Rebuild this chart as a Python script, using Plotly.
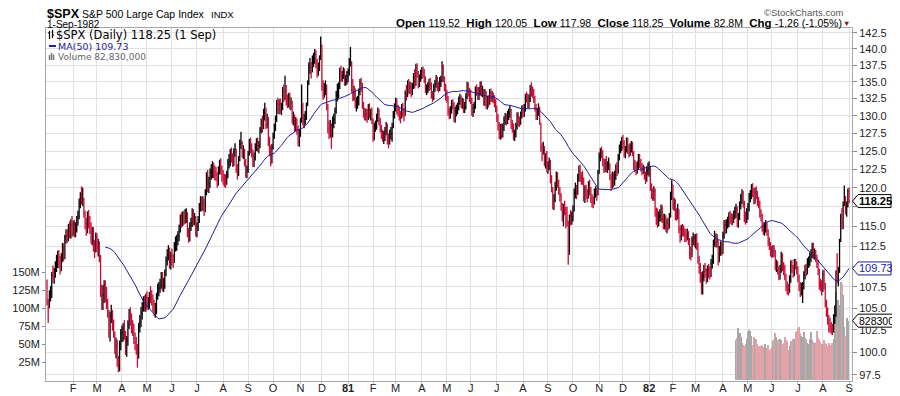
import numpy as np
import pandas as pd
import plotly.graph_objects as go

# ---------------- DATA ----------------
holidays = ["1980-01-01", "1980-02-18", "1980-04-04", "1980-05-26", "1980-07-04", "1980-09-01",
            "1980-11-04", "1980-11-27", "1980-12-25",
            "1981-01-01", "1981-02-16", "1981-04-17", "1981-05-25", "1981-07-03", "1981-09-07",
            "1981-11-26", "1981-12-25",
            "1982-01-01", "1982-02-15", "1982-04-09", "1982-05-31", "1982-07-05"]

prev_close_start = 107.94

close_by_month = [
 [105.76,105.22,106.52,106.81,108.95,108.76,109.05,109.89,110.38,111.14,110.66,109.88,111.07,112.10,111.51,113.44,113.70,113.61,114.85,114.07,115.20,114.16],
 [115.12,114.37,114.66,115.72,116.28,117.95,118.65,118.44,118.44,116.72,115.41,114.60,116.47,115.28,115.04,113.33,114.40,112.38,112.35,113.66],
 [112.50,112.78,111.13,106.90,106.51,106.51,107.78,106.92,105.62,104.70,102.26,104.10,104.31,103.15,102.31,100.68,100.68,99.19,98.22,100.68,102.09],
 [102.18,102.68,102.15,100.19,101.20,103.11,104.00,103.79,102.84,102.63,101.54,101.05,100.55,98.95,102.94,103.43,104.40,105.16,105.64,105.46,106.29],
 [105.58,105.58,106.38,106.25,106.13,105.48,104.72,104.78,106.30,106.85,107.35,107.67,108.72,107.62,107.72,109.01,110.62,111.40,111.90,110.27,111.24],
 [110.76,110.51,112.61,112.61,113.20,113.71,114.66,116.02,115.52,116.09,116.03,116.26,116.31,114.06,113.64,115.02,115.38,116.72,115.81,116.00,114.24],
 [114.93,115.68,117.46,118.06,117.84,117.98,117.14,119.30,121.55,120.01,120.56,122.04,122.04,122.51,122.19,121.93,121.79,120.78,122.40,123.11,122.54,121.67],
 [121.21,120.98,120.74,121.66,123.30,123.61,124.78,124.06,123.52,124.84,125.25,122.60,121.94,123.77,126.02,126.02,124.82,124.84,123.52,122.08,122.38],
 [124.52,126.12,125.42,124.88,123.48,124.07,125.58,126.01,125.67,125.67,127.87,128.87,128.40,130.40,130.40,128.72,129.43,126.35,125.40,123.54,125.46],
 [127.13,128.12,129.33,131.73,131.00,131.65,131.00,131.04,133.65,132.77,133.70,132.22,132.02,132.61,131.52,131.85,129.53,129.85,128.38,128.90,128.05,126.29,127.47],
 [129.04,131.33,129.18,129.48,129.66,131.26,134.59,137.15,137.15,136.52,138.10,138.40,139.06,137.91,136.50,137.00,138.31,140.52],
 [134.22,133.71,133.95,134.38,131.52,128.26,128.02,128.26,127.36,129.23,129.45,130.60,133.00,133.00,134.18,136.52,135.78,135.88,136.57,135.03,135.33,135.76],
 [136.34,137.97,138.12,135.08,133.06,133.48,131.70,131.92,131.96,133.47,134.77,134.37,131.65,130.26,130.23,130.26,129.84,131.12,130.24,130.24,129.55],
 [126.91,128.46,128.59,129.63,130.60,129.27,128.24,127.48,126.98,126.98,127.81,128.48,126.61,126.58,127.39,127.39,128.52,130.10,131.27],
 [132.01,130.86,130.81,129.93,129.85,131.12,130.46,129.95,133.19,133.11,134.68,133.92,134.22,133.46,134.08,135.69,134.67,137.11,136.27,134.65,135.49,136.00],
 [136.57,136.32,135.49,133.91,133.93,134.31,134.67,134.51,133.15,132.68,134.17,134.70,135.45,134.23,134.14,135.01,135.14,137.15,135.48,134.33,132.81],
 [132.72,130.67,130.32,130.78,131.67,131.66,129.71,130.72,130.72,131.28,132.17,132.54,131.75,131.99,131.00,131.33,132.77,134.44,133.45,132.59],
 [132.41,130.62,131.12,131.33,133.75,133.71,132.97,133.57,134.45,133.49,133.61,132.15,133.32,131.64,132.27,131.95,133.35,132.66,132.81,132.56,131.89,131.21],
 [129.77,128.64,127.37,128.24,127.37,128.32,129.30,129.64,129.37,130.06,130.26,130.76,128.72,128.34,127.13,127.40,128.46,129.90,129.16,129.14,130.01,130.92],
 [130.48,131.18,132.67,132.64,131.75,132.54,133.85,133.51,133.40,132.49,131.22,130.11,130.49,131.16,129.23,125.50,125.13,125.49,123.51,124.08,122.79],
 [123.02,123.49,121.24,120.07,117.98,118.40,120.14,121.61,120.66,119.77,118.87,117.66,116.26,117.24,117.15,116.68,115.65,112.77,115.94,115.93,116.18],
 [117.08,119.36,119.51,119.39,121.31,122.31,121.45,121.21,121.15,118.80,119.71,119.19,118.98,120.28,119.64,118.60,118.16,118.10,119.29,119.45,119.06,121.89],
 [124.20,124.80,124.74,123.54,122.67,123.29,122.70,122.92,123.19,121.67,120.24,121.71,120.71,121.60,122.64,122.31,124.05,125.09,125.71,126.35],
 [126.10,124.69,125.12,126.26,125.19,124.82,125.48,125.71,124.93,122.99,122.78,122.42,122.99,124.00,123.34,122.88,122.31,122.54,121.67,121.12,122.30,122.55],
 [122.74,120.05,119.18,118.93,119.55,116.78,116.30,115.54,116.33,116.33,117.22,115.97,115.27,115.97,114.93,115.41,115.19,116.10,118.92,120.40],
 [117.78,118.01,116.48,116.42,117.26,114.63,113.68,114.66,114.43,114.38,113.82,113.69,114.06,113.22,111.59,111.51,113.21,113.47,113.11],
 [113.31,112.68,110.92,109.88,108.83,107.34,108.83,109.41,109.36,108.61,109.45,109.28,109.08,110.30,110.61,112.77,113.55,112.97,113.21,110.71,111.94,112.30,111.96],
 [113.79,115.12,114.73,115.36,115.46,116.22,116.00,115.99,115.83,116.35,116.81,117.19,115.44,116.11,117.69,118.64,119.26,118.00,116.14,115.96,116.44],
 [117.46,118.68,119.08,119.89,119.47,118.38,119.42,119.17,118.22,118.01,116.71,116.35,114.89,114.59,114.89,115.14,114.40,113.11,112.66,111.88],
 [111.68,112.04,111.86,110.09,110.12,109.63,108.99,109.61,111.24,109.96,109.69,108.87,107.60,107.28,107.20,108.30,110.14,109.83,109.14,110.26,110.21,109.61],
 [108.71,107.65,106.69,107.22,107.53,108.83,109.57,109.45,110.44,110.47,111.07,111.54,112.32,111.42,111.48,111.17,110.36,109.43,107.74,107.72,107.09],
 [108.98,107.83,105.69,104.57,103.71,103.08,102.84,102.60,102.42,103.85,104.09,109.04,108.54,109.16,113.02,116.11,115.35,117.58,118.55,117.11,117.66,119.51],
 [118.25],
]

high_by_month = [
 [108.4,106.1,107.1,107.6,109.3,110.1,109.8,110.6,111.4,111.9,112.0,111.3,111.6,112.9,112.8,113.9,114.6,114.6,115.3,115.6,115.9,116.3],
 [115.7,115.8,115.5,116.3,117.0,118.6,119.4,120.2,120.0,118.7,117.0,116.1,116.9,117.1,116.3,115.5,114.9,114.9,113.3,114.2],
 [114.1,113.4,113.1,111.4,107.8,107.7,108.3,108.3,107.5,106.1,104.8,104.6,105.4,104.8,103.7,102.3,101.6,101.4,99.6,101.3,102.6],
 [103.0,103.3,103.6,102.4,101.8,103.6,104.9,105.1,104.4,103.6,103.2,102.2,101.7,100.9,103.3,104.2,105.1,105.7,106.4,106.5,106.7],
 [107.0,106.3,106.9,107.6,107.1,106.6,106.0,105.6,106.8,107.9,108.1,108.5,109.3,109.3,108.6,109.6,111.2,112.1,112.6,112.3,111.8],
 [112.2,111.5,113.0,113.7,113.9,114.4,115.2,116.5,116.8,116.9,117.0,117.2,117.3,116.8,114.8,115.5,116.1,117.3,117.2,116.7,116.3],
 [115.5,116.3,118.0,118.9,118.9,118.9,118.6,119.8,122.1,122.4,121.5,122.6,123.2,123.6,123.4,123.0,122.8,122.1,122.9,123.8,124.0,123.0],
 [122.4,121.9,121.8,122.3,123.9,124.6,125.3,125.5,124.7,125.4,126.1,125.3,123.2,124.3,126.6,127.7,126.4,125.8,125.3,123.9,123.0],
 [125.0,126.7,126.9,126.1,125.2,124.8,126.1,126.8,126.9,126.4,128.4,129.6,130.0,131.0,131.9,131.2,130.3,129.8,127.0,125.8,126.0],
 [127.6,128.9,130.0,132.3,132.6,132.4,132.5,131.9,134.2,134.6,135.9,134.5,133.1,133.3,133.4,132.7,132.2,130.6,130.2,129.8,129.6,128.6,128.1],
 [129.7,134.6,131.9,130.3,130.7,131.9,135.2,137.9,138.6,138.0,139.0,139.4,140.0,139.8,138.5,137.9,139.0,141.96],
 [140.7,135.2,134.8,135.2,134.6,131.7,129.3,129.4,128.9,129.9,130.3,131.2,133.6,134.7,134.9,137.1,137.4,136.6,137.2,137.0,136.0,136.6],
 [137.0,138.6,140.3,138.1,135.4,134.4,134.0,132.7,132.9,134.0,135.4,135.6,134.8,132.0,131.1,131.0,131.0,131.7,131.8,131.0,131.2],
 [129.6,129.0,129.3,130.3,131.2,131.0,129.7,128.7,128.0,127.8,128.4,129.1,128.9,127.5,128.0,128.4,129.0,130.7,131.8],
 [132.6,132.5,131.6,131.3,130.7,131.7,131.9,131.1,133.7,134.5,135.2,135.4,135.0,134.9,134.8,136.3,136.9,137.7,137.8,136.6,136.1,136.8],
 [137.2,137.3,136.9,135.8,134.6,134.9,135.4,135.6,134.9,133.6,134.7,135.3,136.0,135.8,135.0,135.7,135.9,138.1,137.6,135.8,134.7],
 [133.8,132.9,131.2,131.4,132.3,132.4,132.0,131.3,131.6,131.9,132.8,133.2,133.0,132.6,132.5,132.0,133.3,135.0,134.9,134.1],
 [133.8,132.6,131.7,132.0,134.3,134.6,134.2,134.2,135.0,135.1,134.4,133.9,133.9,133.6,132.9,133.0,133.9,134.0,133.6,133.4,133.0,132.4],
 [131.5,130.2,129.1,128.8,128.9,128.9,129.9,130.4,130.3,130.7,131.0,131.5,131.0,129.4,128.9,128.0,129.0,130.5,130.5,129.9,130.6,131.5],
 [131.6,131.7,133.2,133.5,133.2,133.1,134.5,134.9,134.3,133.9,132.9,131.7,131.1,131.8,131.3,129.0,126.1,126.3,125.7,124.7,125.0],
 [123.6,124.1,123.8,121.7,120.1,119.2,120.8,122.2,122.1,121.1,120.1,119.3,118.0,117.9,118.3,117.5,117.5,115.7,116.5,117.1,116.9],
 [117.7,119.9,120.7,120.4,121.9,123.0,123.1,122.1,122.3,121.4,120.3,120.4,119.8,120.9,121.1,120.1,119.2,118.9,119.9,120.2,120.0,122.4],
 [124.8,125.4,125.6,125.1,124.0,123.9,124.3,123.6,124.1,123.3,121.8,122.2,122.1,122.3,123.2,123.5,124.6,125.9,126.4,127.0],
 [127.3,126.5,125.7,126.9,126.9,125.9,126.1,126.4,126.3,125.0,123.8,123.5,123.6,124.6,124.6,123.9,123.4,123.1,122.9,122.2,122.9,123.4],
 [123.6,122.9,120.6,119.9,120.2,119.9,117.4,117.3,116.9,117.2,117.8,117.7,116.6,116.6,116.4,116.0,116.1,116.7,119.5,121.0],
 [120.4,118.7,118.5,117.3,117.9,117.2,115.0,115.2,115.3,115.1,114.7,114.6,114.7,114.4,113.5,112.4,113.7,114.2,114.0],
 [114.0,114.1,112.9,111.3,110.4,109.3,109.4,110.2,110.4,109.7,110.1,110.3,110.0,110.9,111.4,113.3,114.4,114.1,114.0,113.3,112.5,113.1,113.0],
 [114.3,115.8,115.8,115.9,116.2,116.8,117.0,116.7,116.6,117.0,117.5,117.9,117.6,116.7,118.2,119.2,119.8,119.6,118.3,116.9,117.3],
 [118.0,119.3,119.7,120.5,120.6,120.0,120.0,120.2,119.6,118.8,118.3,117.2,116.6,115.5,115.5,115.8,115.5,114.6,113.6,113.0],
 [112.5,112.6,112.6,112.0,110.8,110.6,110.0,110.2,111.8,111.6,110.5,110.2,109.1,108.2,107.9,108.9,110.7,110.8,110.2,110.9,110.9,110.6],
 [110.0,109.0,108.1,108.0,108.1,109.4,110.2,110.3,111.0,111.2,111.7,112.1,112.9,112.9,112.2,112.0,111.4,110.8,109.7,108.5,108.3],
 [109.5,109.6,108.0,106.0,105.1,104.2,103.9,103.4,103.2,104.3,105.3,109.5,111.6,109.9,113.4,116.6,117.3,118.2,120.3,118.9,118.2,119.9],
 [120.05],
]

low_by_month = [
 [105.3,103.3,105.0,105.8,106.2,108.0,107.9,108.6,109.3,109.8,109.8,109.0,109.4,110.5,110.6,110.9,112.8,112.9,113.1,113.5,113.4,113.6],
 [113.8,113.6,113.6,114.2,115.1,115.9,117.3,117.8,117.6,116.1,114.6,113.8,114.1,114.7,114.0,112.8,112.6,111.8,111.0,111.7],
 [111.8,111.2,110.5,106.3,104.8,104.8,105.6,105.7,104.9,103.9,101.6,101.2,103.3,102.4,101.6,99.8,99.3,98.4,97.8,97.9,100.2],
 [101.1,101.2,101.4,99.7,99.5,100.7,102.6,103.0,102.1,101.8,100.9,100.2,99.7,98.3,99.3,102.2,102.8,103.7,104.6,104.6,104.6],
 [104.9,104.8,105.0,105.6,105.3,104.6,104.1,103.9,104.3,106.0,106.4,106.8,107.3,107.0,106.9,107.3,108.8,110.1,110.7,109.7,109.6],
 [110.1,109.8,110.4,111.8,111.9,112.6,113.1,114.2,114.8,115.0,115.2,115.3,115.4,113.6,112.9,113.1,114.4,114.9,115.1,115.1,113.7],
 [113.6,114.4,115.4,116.9,116.9,117.0,116.3,116.8,119.0,119.4,119.3,120.0,121.1,121.3,121.3,121.0,120.9,120.0,120.3,121.8,121.8,120.8],
 [120.4,120.1,120.0,120.4,121.3,122.6,122.9,123.4,122.8,122.9,124.2,122.0,121.1,121.6,123.6,125.3,124.1,123.9,122.9,121.4,121.3],
 [122.0,124.4,124.7,124.1,122.8,122.8,123.7,125.0,124.9,124.7,125.4,127.5,127.6,128.1,129.3,128.1,128.2,125.7,124.3,122.9,123.3],
 [125.2,126.7,127.8,129.1,130.3,130.2,130.3,130.1,130.8,132.0,132.3,131.5,131.1,131.2,130.9,130.8,128.9,128.6,127.7,127.8,127.3,125.7,125.6],
 [127.0,129.0,128.6,128.2,128.7,129.4,131.4,134.5,136.2,135.5,136.4,137.2,137.7,137.0,135.6,135.9,136.6,138.3],
 [133.7,132.3,132.6,133.0,130.8,127.5,126.7,126.9,125.3,126.9,128.2,128.8,130.3,132.1,132.5,133.9,135.0,135.0,135.4,134.4,134.4,134.6],
 [134.9,135.9,137.3,133.4,132.1,132.2,131.1,130.6,131.0,131.5,133.0,133.5,131.0,129.7,129.3,129.3,129.0,129.4,129.6,129.3,128.8],
 [126.3,126.5,127.7,128.0,129.1,128.6,127.6,126.7,126.3,126.0,126.4,127.2,125.9,125.4,125.9,126.6,126.3,128.2,129.6],
 [130.6,130.2,129.9,129.3,128.9,129.6,129.8,129.2,130.0,132.2,132.7,133.2,133.2,132.7,133.0,133.9,134.0,134.4,135.6,134.0,134.2,135.0],
 [135.4,135.6,134.8,133.3,133.0,133.3,133.6,133.8,132.5,132.0,132.3,133.5,134.1,133.6,133.4,133.6,134.2,135.0,134.9,133.6,132.2],
 [131.9,130.0,129.5,129.6,130.3,130.9,129.1,129.0,129.9,130.2,130.8,131.6,131.1,131.0,130.4,130.4,130.9,132.4,132.8,132.0],
 [131.7,130.0,129.8,130.4,131.0,132.9,132.3,132.3,132.9,132.8,132.7,131.5,131.4,131.0,130.9,131.2,131.6,132.0,132.0,131.8,131.2,130.5],
 [129.1,127.9,126.7,126.6,126.7,126.9,127.8,128.7,128.6,128.8,129.4,129.7,128.1,127.6,126.5,126.4,126.9,128.0,128.5,128.4,128.7,129.6],
 [129.8,129.8,130.6,131.9,131.1,131.1,132.0,132.8,132.6,131.9,130.6,129.4,129.4,130.0,128.7,124.9,123.6,124.5,122.9,122.6,122.1],
 [121.9,122.4,120.6,119.4,117.2,117.1,118.1,119.6,120.0,119.1,118.2,117.0,115.6,115.0,116.4,114.7,115.0,110.2,111.4,115.1,115.2],
 [115.6,116.9,118.6,118.5,119.1,120.8,120.8,120.4,120.4,118.2,118.0,118.5,118.1,118.6,119.0,118.0,117.4,117.3,117.8,118.7,118.3,119.0],
 [121.9,123.6,124.0,122.9,122.0,122.1,122.1,122.0,122.4,121.0,119.6,119.9,120.1,120.3,121.1,121.6,121.9,123.7,124.7,125.0],
 [125.3,124.1,124.0,124.8,124.6,124.1,124.3,124.8,124.3,122.4,122.1,121.7,121.9,122.4,122.7,122.2,121.7,121.9,121.1,120.5,120.8,121.7],
 [121.5,119.6,118.5,118.3,118.3,116.2,115.2,114.8,115.0,115.6,115.6,115.4,114.6,114.6,114.3,114.1,114.5,114.7,116.1,118.4],
 [117.2,117.0,115.8,115.7,115.9,114.1,112.9,113.2,113.7,113.7,113.0,113.0,113.2,112.6,110.9,110.7,111.1,112.6,112.4],
 [112.2,112.0,110.3,109.1,108.0,106.6,106.6,108.2,108.6,107.9,108.1,108.6,108.4,108.7,109.7,110.3,112.4,112.3,112.3,110.1,110.5,111.3,111.3],
 [111.5,113.4,114.0,114.1,114.7,114.9,115.3,115.2,115.1,115.4,115.9,116.1,114.9,114.8,115.8,117.2,117.9,117.4,115.5,115.2,115.4],
 [115.8,116.9,118.1,118.5,118.8,117.8,117.9,118.5,117.6,117.3,116.1,115.6,114.3,113.9,113.8,114.2,113.8,112.5,112.0,111.2],
 [111.0,111.1,111.1,109.5,109.3,109.0,108.3,108.4,109.2,109.4,108.9,108.3,107.0,106.6,106.5,106.8,108.0,109.2,108.6,108.8,109.6,109.0],
 [108.1,107.0,106.3,106.5,105.6,107.2,108.4,108.8,109.0,109.8,110.0,110.5,111.0,110.9,110.8,110.5,109.8,108.9,107.2,107.0,106.5],
 [106.9,107.2,105.1,104.0,103.1,102.2,102.2,102.0,101.9,102.2,103.2,104.0,107.9,107.6,109.2,113.0,114.6,114.6,117.6,116.5,116.2,117.4],
 [117.98],
]

# volume in millions of shares, daily, starting 1982-04-19
volume_first_day = "1982-04-19"
volume_m = [56, 59, 72, 65, 60, 52, 49, 48, 51, 58,
            67, 70, 69, 62, 49, 60, 58, 57, 50, 48,
            48, 47, 49, 46, 50, 45, 44, 49, 42, 44,
            46, 55, 57, 66, 60, 56, 58, 57, 56, 50,
            52, 60, 56, 55, 42, 48, 55, 55, 57, 58,
            67, 69, 72, 74, 65, 61, 60, 67, 59, 58,
            52, 51, 58, 67, 56, 53, 52, 51, 69, 59,
            56, 53, 51, 50, 56, 52, 50, 48, 52, 49,
            48, 52, 57, 81, 122, 75, 111, 105, 137, 134,
            118, 74, 62, 87, 82.83]

ma_period = 50
last_open, last_high, last_low, last_close = 119.52, 120.05, 117.98, 118.25
last_volume = 82830000
last_chg, last_chg_pct = -1.26, -1.05

price_ticks = [97.5, 100.0, 102.5, 105.0, 107.5, 110.0, 112.5, 115.0, 117.5, 120.0, 122.5,
               125.0, 127.5, 130.0, 132.5, 135.0, 137.5, 140.0, 142.5]
covered_price_ticks = [110.0, 117.5]   # hidden under the value tags in the reference
volume_ticks = [25, 50, 75, 100, 125, 150]

# ---------------- BUILD ----------------
dates = pd.bdate_range("1980-01-02", "1982-09-01")
dates = dates[~dates.isin(pd.to_datetime(holidays))]
periods = dates.to_period("M")
month_keys = list(dict.fromkeys(periods))
for k, (c, h, l) in enumerate(zip(close_by_month, high_by_month, low_by_month)):
    n_cal = int((periods == month_keys[k]).sum())
    if not (len(c) == len(h) == len(l) == n_cal):
        raise ValueError(f"month {month_keys[k]}: cal {n_cal} close {len(c)} high {len(h)} low {len(l)}")

close = np.concatenate([np.array(m, float) for m in close_by_month])
high = np.concatenate([np.array(m, float) for m in high_by_month])
low = np.concatenate([np.array(m, float) for m in low_by_month])
n = len(close)
idx = np.arange(n)
prev = np.r_[prev_close_start, close[:-1]]
up = close >= prev

UP_COL = "#000000"
DN_COL = "#cc0a35"
MA_COL = "#1e1e96"

def segments(mask):
    xs, ys = [], []
    for i in np.where(mask)[0]:
        xs += [i, i, None, i, i + 0.5, None]
        ys += [low[i], high[i], None, close[i], close[i], None]
    return xs, ys

ma = pd.Series(close).rolling(ma_period).mean()

vstart = int(np.searchsorted(dates.values, np.datetime64(volume_first_day)))
vx = np.arange(vstart, vstart + len(volume_m))
vcol = ["#a8a8a8" if up[i] else "#e3a2a8" for i in vx]

fig = go.Figure()
fig.add_trace(go.Bar(x=vx, y=volume_m, marker=dict(color=vcol, line=dict(width=0)),
                     width=0.85, yaxis="y", hoverinfo="skip"))
xs, ys = segments(up)
fig.add_trace(go.Scatter(x=xs, y=ys, mode="lines", line=dict(color=UP_COL, width=1.3),
                         yaxis="y2", hoverinfo="skip", connectgaps=False))
xs, ys = segments(~up)
fig.add_trace(go.Scatter(x=xs, y=ys, mode="lines", line=dict(color=DN_COL, width=1.3),
                         yaxis="y2", hoverinfo="skip", connectgaps=False))
fig.add_trace(go.Scatter(x=idx, y=ma, mode="lines", line=dict(color=MA_COL, width=1),
                         yaxis="y2", hoverinfo="skip"))

# month ticks
tickvals, ticktext = [], []
for i in range(1, n):
    if periods[i] != periods[i - 1]:
        tickvals.append(i)
        d = dates[i]
        ticktext.append(f"<b>{d.year % 100:02d}</b>" if d.month == 1 else d.strftime("%b")[0])

# page body has an 8px margin: the figure is drawn offset by 8px, so size it to keep the
# plot area at the reference's on-screen place (46..852 x 28..381)
OFF = 8
PL, PT, PW, PH = 46, 28, 806, 353          # on-screen plot box
W, H = 900 - OFF, 396 - OFF
L, T = PL - OFF, PT - OFF
R, B = W - L - PW, H - T - PH
XRANGE = [-0.84, 676.47]
P_LO, P_HI = 96.85, 143.29
V_LO, V_HI = -1.0, 489.3

def px(x):
    return (x - PL) / PW

def py(y):
    return (PT + PH - y) / PH

def price_to_paper(v):
    return (np.log10(v) - np.log10(P_LO)) / (np.log10(P_HI) - np.log10(P_LO))

def vol_to_paper(v):
    return (v - V_LO) / (V_HI - V_LO)

AX_FONT = dict(family="Liberation Sans, Arial, sans-serif", size=11, color="#222")
GRID = "#e0e0e0"
BORDER = "#a8a8a8"

price_text = ["" if v in covered_price_ticks else f"{v:.1f}" for v in price_ticks]

fig.update_layout(
    width=W, height=H, margin=dict(l=L, r=R, t=T, b=B, autoexpand=False),
    paper_bgcolor="white", plot_bgcolor="white", showlegend=False, bargap=0,
    xaxis=dict(range=XRANGE, tickvals=tickvals, ticktext=ticktext, tickfont=AX_FONT,
               showgrid=True, gridcolor=GRID, gridwidth=1, zeroline=False, automargin=False,
               ticks="outside", ticklen=2, tickcolor="#bbb", ticklabelstandoff=-5,
               showline=True, linecolor=BORDER, mirror=True, fixedrange=True),
    yaxis=dict(range=[V_LO, V_HI], tickvals=volume_ticks, ticktext=[f"{v}M" for v in volume_ticks],
               tickfont=AX_FONT, side="left", showgrid=False, zeroline=False, automargin=False,
               ticks="outside", ticklen=3, tickcolor="#888",
               showline=True, linecolor=BORDER, mirror=True),
    yaxis2=dict(type="log", range=[np.log10(P_LO), np.log10(P_HI)], overlaying="y", side="right",
                tickvals=price_ticks, ticktext=price_text, tickfont=AX_FONT,
                showgrid=True, gridcolor=GRID, gridwidth=1, zeroline=False, automargin=False,
                ticks="outside", ticklen=4, tickcolor="#888", showline=True, linecolor=BORDER),
)

ann = []
def text(x, y, s, size, color="#000", family="Liberation Sans, Arial, sans-serif", xanchor="left"):
    ann.append(dict(x=px(x), y=py(y), xref="paper", yref="paper", text=s, showarrow=False,
                    xanchor=xanchor, yanchor="middle", font=dict(size=size, color=color, family=family),
                    borderpad=0))

text(46, 14, "<b>$SPX</b>", 12.5)
text(81, 14, "S&P 500 Large Cap Index", 10.5)
text(210, 14.5, "INDX", 9.5)
text(46, 25, "1-Sep-1982", 10)
text(844, 12.5, "\u00a9StockCharts.com", 9.5, color="#555", xanchor="right")

def lab(s):
    return f"<b>{s}</b>"
def val(s):
    return f"<span style='font-size:10.5px'>{s}</span>"
sp = "\u00a0"
hdr = (lab("Open") + sp + val(f"{last_open:.2f}") + sp * 2 + lab("High") + sp + val(f"{last_high:.2f}") + sp * 2
       + lab("Low") + sp + val(f"{last_low:.2f}") + sp * 2 + lab("Close") + sp + val(f"{last_close:.2f}") + sp * 2
       + lab("Volume") + sp + val(f"{last_volume/1e6:.1f}M") + sp * 2 + lab("Chg") + sp
       + val(f"{last_chg:.2f} ({last_chg_pct:.2f}%)"))
text(843, 23.5, hdr, 11.5, xanchor="right")
text(851, 23.5, "\u25BC", 7.5, color="#8b1020", xanchor="right")

LEG = "DejaVu Sans, Verdana, sans-serif"
text(55, 35.5, f"$SPX (Daily) {last_close:.2f} (1 Sep)", 11.5, family=LEG)
text(57, 46, f"MA({ma_period}) {ma.iloc[-1]:.2f}", 9.5, color=MA_COL, family=LEG)
text(57, 57, f"Volume {last_volume:,}", 9, color="#666", family=LEG)

shapes = []
def seg(x0, y0, x1, y1, color, w=1):
    shapes.append(dict(type="line", xref="paper", yref="paper", x0=px(x0), y0=py(y0), x1=px(x1), y1=py(y1),
                       line=dict(color=color, width=w)))
# legend icons
seg(49.5, 31, 49.5, 39, "#000", 1.2); seg(52.5, 30, 52.5, 38, "#000", 1.2)
seg(48, 33, 49.5, 33, "#000", 1); seg(52.5, 35, 54, 35, "#000", 1)
seg(49, 46, 56, 46, MA_COL, 2)
for xx, top in [(49.5, 55), (51.5, 53), (53.5, 54.5)]:
    seg(xx, top, xx, 60, "#777", 1.5)

# right-side value tags
def tag(yp, s, color, bold, x_right, size=11):
    x0 = px(PL + PW + 0.5)
    xt = px(PL + PW + 6)
    xr = px(x_right)
    h = 6.5 / PH
    shapes.append(dict(type="path", xref="paper", yref="paper",
                       path=f"M{x0},{yp} L{xt},{yp+h} L{xr},{yp+h} L{xr},{yp-h} L{xt},{yp-h} Z",
                       fillcolor="white", line=dict(color=color, width=1), layer="above"))
    ann.append(dict(x=px(PL + PW + 5), y=yp, xref="paper", yref="paper", showarrow=False,
                    text=f"<b>{s}</b>" if bold else s, xanchor="left", yanchor="middle",
                    font=dict(size=size, color=color, family="Liberation Sans, Arial, sans-serif")))

tag(price_to_paper(last_close), f"{last_close:.2f}", "#000", True, 891)
tag(price_to_paper(ma.iloc[-1]), f"{ma.iloc[-1]:.2f}", MA_COL, False, 891)
tag(vol_to_paper(last_volume / 1e6), f"{last_volume}", "#000", False, 905, size=10.5)

fig.update_layout(annotations=ann, shapes=shapes)
fig.write_html("out.html")
